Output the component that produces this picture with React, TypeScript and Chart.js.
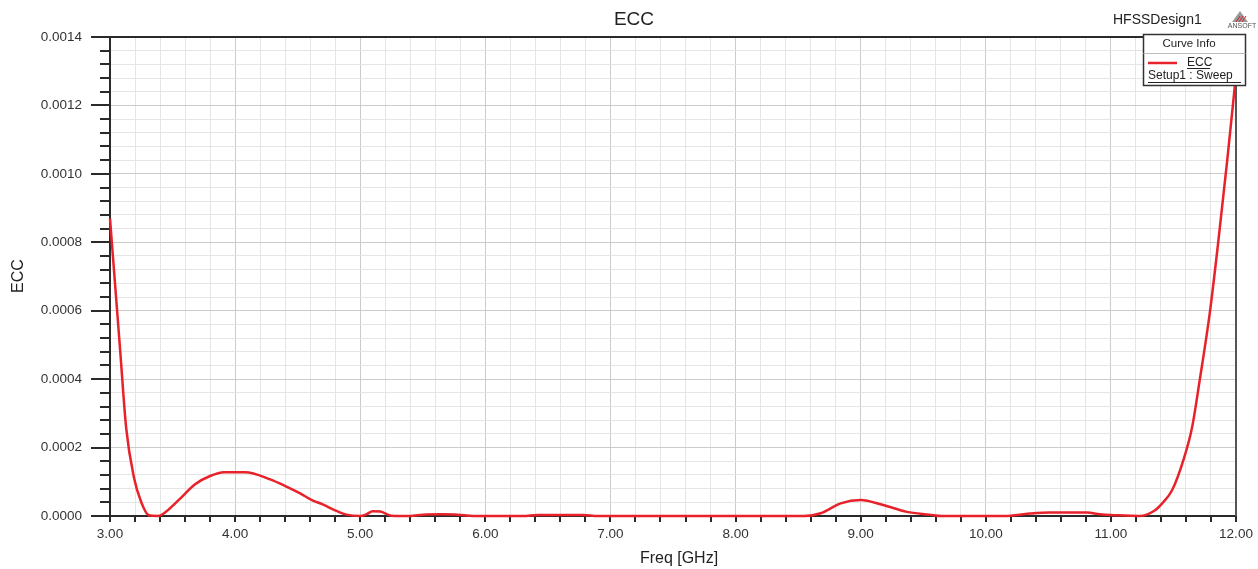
import React, { useEffect, useRef } from "react";
import { Chart, registerables } from "chart.js";

Chart.register(...registerables);

const freqs = [
  3.0, 3.08, 3.13, 3.19, 3.25, 3.31, 3.38, 3.42, 3.55, 3.68, 3.8, 3.91, 4.08, 4.28, 4.41, 4.52, 4.61, 4.7,
  4.81, 4.89, 5.0, 5.05, 5.1, 5.16, 5.25, 5.4, 5.5, 5.65, 5.78, 5.9, 6.3, 6.42, 6.6, 6.78, 6.9, 8.55, 8.68,
  8.84, 9.0, 9.18, 9.37, 9.55, 9.65, 10.15, 10.35, 10.51, 10.81, 10.91, 11.05, 11.23, 11.35, 11.41, 11.49,
  11.58, 11.65, 11.71, 11.79, 11.86, 11.93, 12.0,
];
const ecc = [
  0.00087, 0.00049, 0.000255, 0.000115, 0.00004, 0.000002, 0.0, 0.000005, 0.000047, 0.000093, 0.000117,
  0.000128, 0.000128, 0.000107, 0.000086, 0.000066, 0.000047, 0.000034, 0.000015, 0.000004, 0.0, 0.000005,
  0.000014, 0.000013, 0.000001, 0.0, 0.000004, 0.000005, 0.000004, 0.0, 0.0, 0.000003, 0.000003, 0.000003,
  0.0, 0.0, 0.000008, 0.000037, 0.000047, 0.000032, 0.000012, 0.000004, 0.0, 0.0, 0.000007, 0.00001,
  0.00001, 0.000005, 0.000002, 0.0, 0.000016, 0.000037, 0.000076, 0.000164, 0.000261, 0.000397, 0.000592,
  0.000807, 0.00104, 0.00129,
];

const X_MIN = 3;
const X_MAX = 12;
const X_STEP = 0.2;
const Y_MIN = 0;
const Y_MAX = 0.0014;
const Y_STEP = 0.00004;

const titleText = "ECC";
const xTitle = "Freq [GHz]";
const yTitle = "ECC";
const designName = "HFSSDesign1";
const legendHeader = "Curve Info";
const legendCurve = "ECC";
const legendSetup = "Setup1 : Sweep";

const FONT = "'Liberation Sans', Arial, Helvetica, sans-serif";
const RED = "#e8222a";

const isMajorX = (v: number) => Math.abs(v - Math.round(v)) < 1e-6;
const isMajorY = (v: number) => Math.round(v / Y_STEP) % 5 === 0;

const framePlugin = {
  id: "frame",
  beforeDatasetsDraw(chart: any) {
    const { ctx, chartArea } = chart;
    const xs = chart.scales.x;
    const ys = chart.scales.y;
    const { left, right, top, bottom } = chartArea;
    ctx.save();
    ctx.strokeStyle = "#2a2a2a";
    ctx.lineWidth = 2;
    const nY = Math.round((Y_MAX - Y_MIN) / Y_STEP);
    for (let k = 0; k <= nY; k++) {
      const v = Y_MIN + k * Y_STEP;
      const y = Math.round(ys.getPixelForValue(v));
      const major = k % 5 === 0;
      ctx.beginPath();
      ctx.moveTo(major ? left - 19 : left - 10, y);
      ctx.lineTo(left, y);
      ctx.stroke();
    }
    const nX = Math.round((X_MAX - X_MIN) / X_STEP);
    for (let k = 0; k <= nX; k++) {
      const v = X_MIN + k * X_STEP;
      const x = Math.round(xs.getPixelForValue(v));
      ctx.beginPath();
      ctx.moveTo(x, bottom);
      ctx.lineTo(x, bottom + 6);
      ctx.stroke();
    }
    ctx.beginPath();
    ctx.moveTo(left, top);
    ctx.lineTo(left, bottom);
    ctx.lineTo(right, bottom);
    ctx.stroke();
    ctx.beginPath();
    ctx.moveTo(left - 19, top);
    ctx.lineTo(right, top);
    ctx.stroke();
    ctx.strokeStyle = "#555";
    ctx.beginPath();
    ctx.moveTo(right, top);
    ctx.lineTo(right, bottom);
    ctx.stroke();
    ctx.restore();
  },
  afterDraw(chart: any) {
    const { ctx } = chart;
    ctx.save();
    ctx.fillStyle = "#222";
    ctx.textBaseline = "middle";
    ctx.font = `19px ${FONT}`;
    ctx.textAlign = "center";
    ctx.fillText(titleText, 634, 20);
    ctx.font = `16px ${FONT}`;
    ctx.fillText(xTitle, 679, 559);
    ctx.save();
    ctx.translate(19, 276);
    ctx.rotate(-Math.PI / 2);
    ctx.font = `16px ${FONT}`;
    ctx.fillText(yTitle, 0, 0);
    ctx.restore();
    ctx.font = `14px ${FONT}`;
    ctx.textAlign = "left";
    ctx.fillText(designName, 1113, 20);
    // ANSOFT logo
    ctx.fillStyle = "#9a9a9a";
    ctx.beginPath();
    ctx.moveTo(1240, 11);
    ctx.lineTo(1248, 22);
    ctx.lineTo(1232, 22);
    ctx.closePath();
    ctx.fill();
    ctx.strokeStyle = "#d0202a";
    ctx.lineWidth = 1;
    for (let i = 0; i < 3; i++) {
      ctx.beginPath();
      ctx.moveTo(1236 + i * 3, 22);
      ctx.lineTo(1240 + i * 3, 16);
      ctx.stroke();
    }
    ctx.fillStyle = "#555";
    ctx.font = `7px ${FONT}`;
    ctx.textAlign = "center";
    ctx.fillText("ANSOFT", 1242, 26);

    // legend box
    const bx = 1143.5, by = 34.5, bw = 102, bh = 51;
    ctx.fillStyle = "#fff";
    ctx.fillRect(bx, by, bw, bh);
    ctx.strokeStyle = "#333";
    ctx.lineWidth = 1.5;
    ctx.strokeRect(bx, by, bw, bh);
    ctx.strokeStyle = "#bbb";
    ctx.lineWidth = 1;
    ctx.beginPath();
    ctx.moveTo(bx, 53.5);
    ctx.lineTo(bx + bw, 53.5);
    ctx.stroke();
    ctx.fillStyle = "#222";
    ctx.font = `11.5px ${FONT}`;
    ctx.textAlign = "center";
    ctx.fillText(legendHeader, 1189, 44);
    ctx.strokeStyle = RED;
    ctx.lineWidth = 2.5;
    ctx.beginPath();
    ctx.moveTo(1148, 63);
    ctx.lineTo(1177, 63);
    ctx.stroke();
    ctx.font = `12px ${FONT}`;
    ctx.textAlign = "left";
    ctx.fillText(legendCurve, 1187, 63);
    ctx.fillText(legendSetup, 1148, 76);
    ctx.strokeStyle = "#222";
    ctx.lineWidth = 1;
    ctx.beginPath();
    ctx.moveTo(1187, 68.5);
    ctx.lineTo(1210, 68.5);
    ctx.moveTo(1148, 82.5);
    ctx.lineTo(1241, 82.5);
    ctx.stroke();
    ctx.restore();
  },
};

export default function App() {
  const ref = useRef<HTMLCanvasElement | null>(null);
  useEffect(() => {
    if (!ref.current) return;
    const chart = new Chart(ref.current, {
      type: "line",
      data: {
        datasets: [
          {
            label: legendCurve,
            data: freqs.map((f, i) => ({ x: f, y: ecc[i] })),
            borderColor: RED,
            backgroundColor: RED,
            borderWidth: 2.5,
            pointRadius: 0,
            cubicInterpolationMode: "monotone",
            clip: 6,
          } as any,
        ],
      },
      options: {
        animation: false,
        responsive: false,
        layout: { padding: { left: 0, right: 22, top: 37, bottom: 0 } },
        plugins: { legend: { display: false }, title: { display: false }, tooltip: { enabled: false } },
        scales: {
          x: {
            type: "linear",
            min: X_MIN,
            max: X_MAX,
            border: { display: false },
            afterFit: (s: any) => {
              s.height = 53;
              s.paddingLeft = 0;
              s.paddingRight = 0;
            },
            grid: {
              drawTicks: false,
              lineWidth: 1,
              color: (c: any) => (c.tick && isMajorX(c.tick.value) ? "#cbcbcb" : "#e5e5e5"),
            },
            ticks: {
              stepSize: X_STEP,
              autoSkip: false,
              maxRotation: 0,
              padding: 10,
              color: "#333",
              font: { family: FONT, size: 13.5 },
              callback: (v: any) => (isMajorX(Number(v)) ? Number(v).toFixed(2) : ""),
            },
          },
          y: {
            type: "linear",
            min: Y_MIN,
            max: Y_MAX,
            border: { display: false },
            afterFit: (s: any) => {
              s.width = 110;
              s.paddingTop = 0;
              s.paddingBottom = 0;
            },
            grid: {
              drawTicks: false,
              lineWidth: 1,
              color: (c: any) => (c.tick && isMajorY(c.tick.value) ? "#cbcbcb" : "#e5e5e5"),
            },
            ticks: {
              stepSize: Y_STEP,
              autoSkip: false,
              padding: 28,
              color: "#333",
              font: { family: FONT, size: 13.5 },
              callback: (v: any) => (isMajorY(Number(v)) ? Number(v).toFixed(4) : ""),
            },
          },
        },
      },
      plugins: [framePlugin],
    });
    return () => chart.destroy();
  }, []);
  return (
    <div style={{ position: "absolute", left: 0, top: 0, width: 1258, height: 569, background: "#fff" }}>
      <canvas ref={ref} width={1258} height={569} style={{ display: "block" }} />
    </div>
  );
}
